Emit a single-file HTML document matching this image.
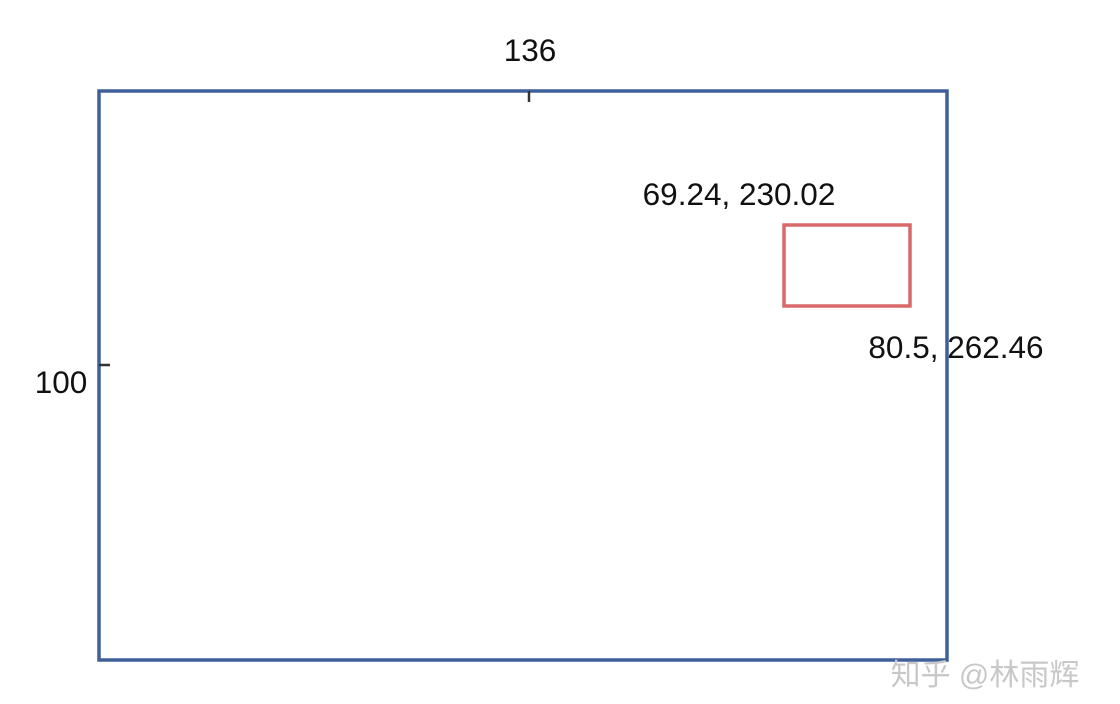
<!DOCTYPE html>
<html><head><meta charset="utf-8"><style>
html,body{margin:0;padding:0;background:#fff;width:1120px;height:704px;overflow:hidden}
text{font-family:"Liberation Sans","Noto Sans CJK SC",sans-serif}
</style></head><body>
<svg width="1120" height="704">
<g id="g"></g>
</svg>
<script>
const frameLabels = ["136", "100"];
const boxTopLeft = [69.24, 230.02];
const boxBottomRight = [80.5, 262.46];
const NS = "http://www.w3.org/2000/svg";
const g = document.getElementById("g");
function mk(tag, attrs, txt){const e=document.createElementNS(NS,tag);for(const k in attrs)e.setAttribute(k,attrs[k]);if(txt!==undefined)e.textContent=txt;g.appendChild(e);return e;}
let e;
e = mk("rect",{x:99,y:91,width:848,height:569,fill:"none",stroke:"#3f5f99","stroke-width":3.5});


e = mk("line",{x1:529,y1:91,x2:529,y2:102,stroke:"#333","stroke-width":2.5});


e = mk("line",{x1:99,y1:365,x2:110,y2:365,stroke:"#333","stroke-width":2.5});


e = mk("text",{x:530,y:61,"font-size":31.5,"text-anchor":"middle",fill:"#111"},frameLabels[0]);


e = mk("text",{x:61,y:393,"font-size":31.5,"text-anchor":"middle",fill:"#111"},frameLabels[1]);


e = mk("rect",{x:784,y:225,width:126,height:81,fill:"none",stroke:"#d9686b","stroke-width":3.5});


e = mk("text",{x:739,y:205,"font-size":31.5,"text-anchor":"middle",fill:"#111"},boxTopLeft.join(", "));


e = mk("text",{x:956,y:358,"font-size":31.5,"text-anchor":"middle",fill:"#111"},boxBottomRight.join(", "));


e = mk("text",{x:985,y:685,"font-size":30,"text-anchor":"middle",fill:"#c8c8c8"},"知乎 @林雨辉");


</script>
</body></html>
